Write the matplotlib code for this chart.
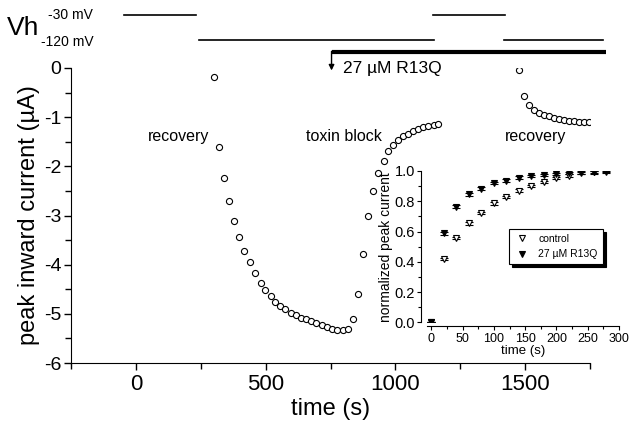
import matplotlib
matplotlib.use('Agg')
import matplotlib.pyplot as plt
from matplotlib.ticker import MultipleLocator
from matplotlib.lines import Line2D

plt.rcParams['font.family'] = ['Liberation Sans', 'DejaVu Sans']

# ---------------- data ----------------
# main trace: peak inward current vs time
time_a = [300, 319, 340, 358, 378, 399, 418, 440, 459, 483, 499, 519, 537, 557, 576,
          597, 618, 637, 656, 676, 695, 717, 736, 755, 776, 798, 817, 836, 856, 875,
          896, 915, 933, 955, 973, 992, 1012, 1029, 1050, 1068, 1089, 1108, 1127, 1147, 1166]
current_a = [-0.18, -1.61, -2.24, -2.71, -3.11, -3.43, -3.72, -3.95, -4.17, -4.37, -4.52,
             -4.63, -4.75, -4.84, -4.91, -4.98, -5.03, -5.08, -5.11, -5.14, -5.18, -5.22,
             -5.27, -5.31, -5.32, -5.32, -5.31, -5.10, -4.59, -3.78, -3.01, -2.51, -2.14,
             -1.90, -1.68, -1.56, -1.47, -1.39, -1.34, -1.28, -1.24, -1.20, -1.18, -1.16, -1.14]
time_b = [1476, 1497, 1516, 1535, 1554, 1574, 1593, 1612, 1632, 1651, 1670, 1690, 1709,
          1728, 1748]
current_b = [-0.05, -0.56, -0.76, -0.86, -0.92, -0.95, -0.98, -1.01, -1.03, -1.05, -1.07,
             -1.08, -1.09, -1.09, -1.09]

# inset: normalized recovery
inset_time = [0, 20, 40, 60, 80, 100, 120, 140, 160, 180, 200, 220, 240, 260, 280]
control = [0.0, 0.418, 0.559, 0.654, 0.724, 0.786, 0.830, 0.870, 0.901, 0.929, 0.952,
           0.969, 0.985, 0.991, 0.995]
r13q = [0.0, 0.588, 0.764, 0.846, 0.883, 0.919, 0.936, 0.956, 0.967, 0.974, 0.980,
        0.985, 0.991, 0.993, 1.0]
err = [0.0, 0.008, 0.008, 0.008, 0.008, 0.008, 0.008, 0.008, 0.008, 0.008, 0.008,
       0.008, 0.008, 0.008, 0.008]

# holding-potential protocol (time spans)
vh_m30 = [(-45, 233), (1144, 1422)]
vh_m120 = [(245, 1148), (1418, 1800)]
toxin_span = (754, 1812)

W, H = 630, 422
fig = plt.figure(figsize=(W / 100, H / 100), dpi=100)

def fx(px):
    return px / W

def fy(py):
    return 1 - py / H

ax = fig.add_axes([fx(71), fy(363), fx(590) - fx(71), fy(68) - fy(363)])
ax.plot(time_a, current_a, 'o', mfc='white', mec='black', ms=4.4, mew=0.8)
ax.plot(time_b, current_b, 'o', mfc='white', mec='black', ms=4.4, mew=0.8)
ax.set_xlim(-250, 1750)
ax.set_ylim(-6, 0)
ax.spines['top'].set_visible(False)
ax.spines['right'].set_visible(False)
ax.xaxis.set_major_locator(MultipleLocator(500))
ax.xaxis.set_minor_locator(MultipleLocator(250))
ax.yaxis.set_major_locator(MultipleLocator(1))
ax.yaxis.set_minor_locator(MultipleLocator(0.5))
ax.tick_params(which='both', direction='out', length=5, width=1)
ax.tick_params(which='minor', length=4)
ax.tick_params(axis='x', labelsize=16, pad=3)
ax.tick_params(axis='y', labelsize=14, pad=2)
ax.set_yticklabels([f'{int(v)}' for v in ax.get_yticks()])
ax.set_xlabel('time (s)', fontsize=17, labelpad=2)
ax.set_ylabel('peak inward current (\u00b5A)', fontsize=17, labelpad=3)

ax.text(165, -1.40, 'recovery', fontsize=11.5, ha='center', va='center')
ax.text(800, -1.40, 'toxin block', fontsize=11.5, ha='center', va='center')
ax.text(1540, -1.40, 'recovery', fontsize=11.5, ha='center', va='center')

# protocol lines (drawn above the axes)
for a, b in vh_m30:
    ax.plot([a, b], [1.086, 1.086], color='black', lw=1.2, clip_on=False)
for a, b in vh_m120:
    ax.plot([a, b], [0.577, 0.577], color='black', lw=1.2, clip_on=False)
ax.plot(list(toxin_span), [0.322, 0.322], color='black', lw=3, clip_on=False,
        solid_capstyle='butt')
ax.annotate('', xy=(toxin_span[0], -0.05), xytext=(toxin_span[0], 0.34),
            arrowprops=dict(arrowstyle='-|>', color='black', lw=1, mutation_scale=8,
                            shrinkA=0, shrinkB=0), annotation_clip=False)
ax.text(toxin_span[0] + 45, -0.02, '27 \u00b5M R13Q', fontsize=12.5, ha='left', va='center')

fig.text(fx(7), fy(28), 'Vh', fontsize=19, ha='left', va='center')
fig.text(fx(48), fy(15), '-30 mV', fontsize=10, ha='left', va='center')
fig.text(fx(41), fy(42), '-120 mV', fontsize=10, ha='left', va='center')

# ---------------- inset ----------------
ia = fig.add_axes([fx(427), fy(322.3), fx(619) - fx(427), fy(171) - fy(322.3)])
ia.patch.set_visible(False)
ia.errorbar(inset_time, control, yerr=err, fmt='v', mfc='white', mec='black',
            ecolor='black', ms=4.5, mew=0.8, capsize=3, elinewidth=0.8)
ia.errorbar(inset_time, r13q, yerr=err, fmt='v', mfc='black', mec='black',
            ecolor='black', ms=4.5, mew=0.8, capsize=3, elinewidth=0.8)
ia.set_xlim(-7, 300)
ia.set_ylim(0, 1.0)
ia.spines['top'].set_visible(False)
ia.spines['right'].set_visible(False)
ia.spines['left'].set_position(('outward', 4))
ia.spines['bottom'].set_position(('outward', 3))
ia.xaxis.set_major_locator(MultipleLocator(50))
ia.xaxis.set_minor_locator(MultipleLocator(25))
ia.yaxis.set_major_locator(MultipleLocator(0.2))
ia.yaxis.set_minor_locator(MultipleLocator(0.1))
ia.tick_params(which='both', direction='out', length=3, width=0.8, pad=1.5)
ia.tick_params(which='minor', length=2)
ia.tick_params(axis='x', labelsize=9)
ia.tick_params(axis='y', labelsize=10.5)
ia.set_yticklabels([f'{v:.1f}' for v in ia.get_yticks()])
ia.set_xlabel('time (s)', fontsize=9.5, labelpad=0)
ia.set_ylabel('normalized peak current', fontsize=10, labelpad=1)
handles = [Line2D([], [], ls='none', marker='v', mfc='white', mec='black', ms=4.5, mew=0.8),
           Line2D([], [], ls='none', marker='v', mfc='black', mec='black', ms=4.5, mew=0.8)]
leg = ia.legend(handles, ['control', '27 \u00b5M R13Q'], loc='center left',
                bbox_to_anchor=(0.40, 0.50), fontsize=7.5, frameon=True, fancybox=False,
                edgecolor='black', handletextpad=0.8, handlelength=1.5, borderpad=0.5,
                labelspacing=0.5,
                shadow={'color': 'black', 'alpha': 1, 'ox': 2, 'oy': -2})
leg.get_frame().set_linewidth(0.8)

fig.savefig('out.png', dpi=100)
